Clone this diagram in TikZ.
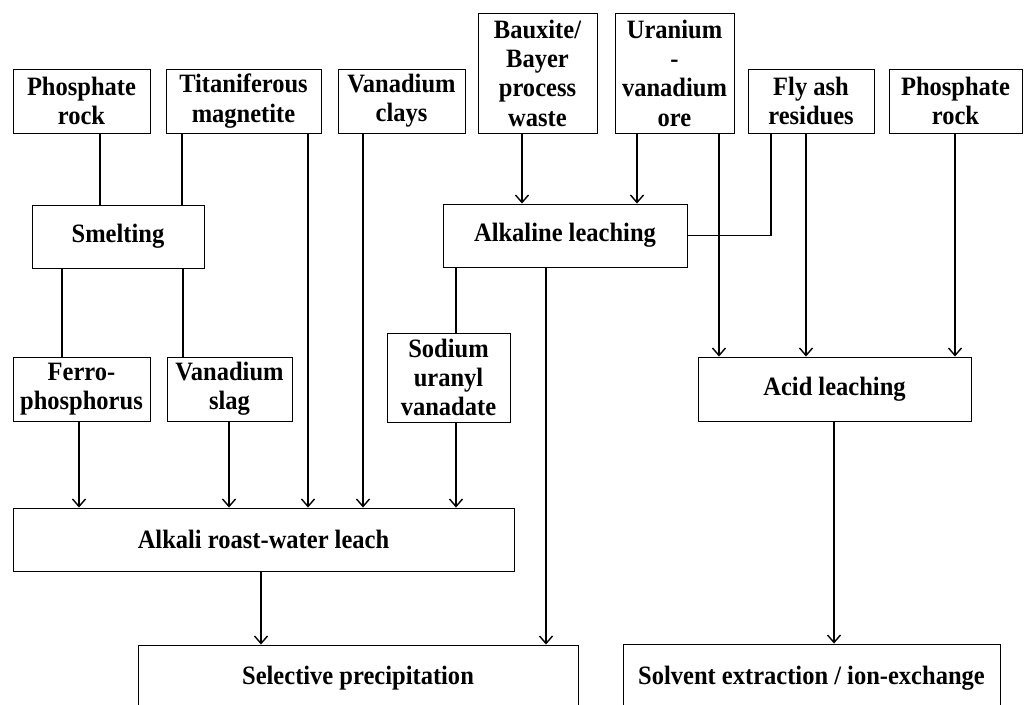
\documentclass[tikz,border=0pt]{standalone}
\usepackage{fontspec}
\setmainfont{Liberation Serif}[FakeStretch=0.925]
\usetikzlibrary{arrows.meta}
\begin{document}
\begin{tikzpicture}[x=1pt,y=-1pt,
  box/.style={draw, line width=0.9pt, inner sep=0pt, align=center,
    font=\bfseries\fontsize{26.5}{29.3}\selectfont},
  link/.style={line width=1.4pt},
  flow/.style={link, -{Straight Barb[length=7.5pt,width=13pt]}}]
\useasboundingbox (0,0) rectangle (1024,704);
\clip (0,0) rectangle (1024,704);

% raw materials
\node[box, minimum width=137, minimum height=64] (prl) at (81.5,101) {Phosphate\\rock};
\node[box, minimum width=155, minimum height=64] (tim) at (243.5,101) {Titaniferous\\magnetite};
\node[box, minimum width=127, minimum height=64] (vcl) at (401.5,101) {Vanadium\\clays};
\node[box, minimum width=119, minimum height=120] (bbw) at (537.5,73) {Bauxite/\\Bayer\\process\\waste};
\node[box, minimum width=119, minimum height=120] (uvo) at (674.5,73) {Uranium\\-\\vanadium\\ore};
\node[box, minimum width=126, minimum height=64] (fly) at (811,101) {Fly ash\\residues};
\node[box, minimum width=133, minimum height=64] (prr) at (955.5,101) {Phosphate\\rock};

% primary treatments
\node[box, minimum width=172, minimum height=63] (smt) at (118,236.5) {Smelting};
\node[box, minimum width=244, minimum height=63] (alk) at (565,235.5) {Alkaline leaching};

% intermediates
\node[box, minimum width=137, minimum height=64] (fph) at (81.5,389) {Ferro-\\phosphorus};
\node[box, minimum width=125, minimum height=64] (vsl) at (229.5,389) {Vanadium\\slag};
\node[box, minimum width=123, minimum height=89] (suv) at (448.5,377.5) {Sodium\\uranyl\\vanadate};
\node[box, minimum width=273, minimum height=64] (acl) at (834.5,389) {Acid leaching};

% processing and recovery
\node[box, minimum width=501, minimum height=63] (arw) at (263.5,539.5) {Alkali roast-water leach};
\node[box, minimum width=440, minimum height=66] (spr) at (358,678) {Selective precipitation};
\node[box, minimum width=377, minimum height=68] (sxi) at (811.5,678) {Solvent extraction / ion-exchange};

% feeds into smelting
\draw[link] (prl.south -| 100,0) -- (smt.north -| 100,0);
\draw[link] (tim.south -| 182,0) -- (smt.north -| 182,0);
% smelting products
\draw[link] (smt.south -| 62,0) -- (fph.north -| 62,0);
\draw[link] (smt.south -| 183,0) -- (vsl.north -| 183,0);

% feeds into alkali roast
\draw[flow] (fph.south -| 79,0) -- (arw.north -| 79,0);
\draw[flow] (vsl.south -| 229,0) -- (arw.north -| 229,0);
\draw[flow] (tim.south -| 308,0) -- (arw.north -| 308,0);
\draw[flow] (vcl.south -| 363,0) -- (arw.north -| 363,0);
\draw[flow] (suv.south -| 456,0) -- (arw.north -| 456,0);

% alkaline leaching
\draw[flow] (bbw.south -| 522,0) -- (alk.north -| 522,0);
\draw[flow] (uvo.south -| 637,0) -- (alk.north -| 637,0);
\draw[link] (fly.south -| 771,0) |- (alk.east);
\draw[link] (alk.south -| 456,0) -- (suv.north -| 456,0);
\draw[flow] (alk.south -| 546,0) -- (spr.north -| 546,0);

% acid leaching
\draw[flow] (uvo.south -| 719,0) -- (acl.north -| 719,0);
\draw[flow] (fly.south -| 806,0) -- (acl.north -| 806,0);
\draw[flow] (prr.south -| 955,0) -- (acl.north -| 955,0);

% recovery steps
\draw[flow] (arw.south -| 261,0) -- (spr.north -| 261,0);
\draw[flow] (acl.south -| 834,0) -- (sxi.north -| 834,0);
\end{tikzpicture}
\end{document}
